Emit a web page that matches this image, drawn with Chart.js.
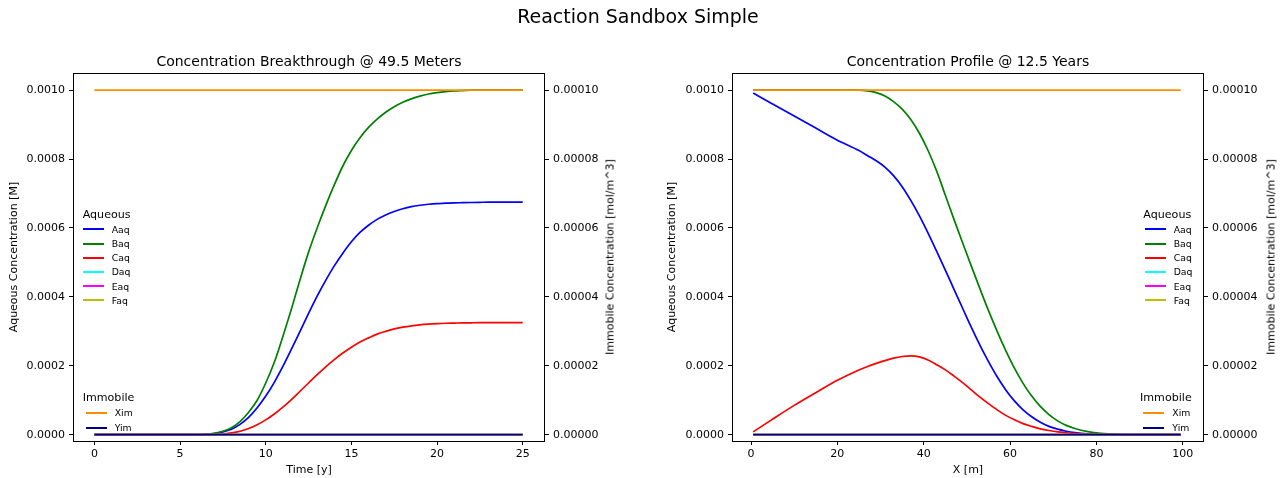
<!DOCTYPE html>
<html>
<head>
<meta charset="utf-8">
<script src="https://cdn.jsdelivr.net/npm/chart.js@4.4.0/dist/chart.umd.min.js"></script>
<style>
    body { margin: 0; background: #fff; font-family: 'DejaVu Sans', sans-serif; }
    #fig { position: relative; width: 1285px; height: 478px; overflow: hidden; background: #fff; }
    canvas { position: absolute; top: 0; }
    .txt { position: absolute; white-space: nowrap; color: #000; }
    .sw { position: absolute; }
</style>
</head>
<body>
<div id="fig">
    <canvas id="canvas-0" width="642" height="478" style="left:0px"></canvas>
    <canvas id="canvas-1" width="643" height="478" style="left:642px"></canvas>
</div>
<script>
// Aqueous values are stored in units of 1e-4 M
const UNIT = 1e-4;

// Breakthrough @ 49.5 m, time in years
const breakTimes = [0, 0.5, 1, 1.5, 2, 2.5, 3, 3.5, 4, 4.5, 5, 5.5, 6, 6.5, 7, 7.5, 8, 8.5, 9, 9.5,
    10, 10.5, 11, 11.5, 12, 12.5, 13, 13.5, 14, 14.5, 15, 15.5, 16, 16.5, 17, 17.5, 18, 18.5, 19, 19.5,
    20, 20.5, 21, 21.5, 22, 22.5, 23, 23.5, 24, 24.5, 25];
const breakEnds = [0, 25];
const aaqBreak = [0, 0, 0, 0, 0, 0, 0, 0, 0, 0, 0, 0, 0, 0.01, 0.03, 0.08, 0.16, 0.3, 0.5, 0.78,
    1.12, 1.52, 1.98, 2.48, 3.0, 3.52, 4.02, 4.48, 4.9, 5.27, 5.6, 5.87, 6.08, 6.25, 6.38, 6.48, 6.56, 6.62, 6.66, 6.69,
    6.71, 6.72, 6.73, 6.735, 6.74, 6.745, 6.75, 6.75, 6.75, 6.75, 6.75];
const baqBreak = [0, 0, 0, 0, 0, 0, 0, 0, 0, 0, 0, 0, 0, 0.01, 0.04, 0.1, 0.2, 0.38, 0.65, 1.0,
    1.5, 2.1, 2.85, 3.65, 4.5, 5.3, 6.0, 6.65, 7.25, 7.8, 8.25, 8.62, 8.92, 9.16, 9.36, 9.52, 9.65, 9.75, 9.83, 9.89,
    9.93, 9.96, 9.98, 9.99, 10, 10, 10, 10, 10, 10, 10];
const caqBreak = [0, 0, 0, 0, 0, 0, 0, 0, 0, 0, 0, 0, 0, 0, 0, 0.02, 0.05, 0.1, 0.18, 0.29,
    0.43, 0.6, 0.8, 1.02, 1.26, 1.5, 1.74, 1.97, 2.18, 2.37, 2.54, 2.69, 2.81, 2.92, 3.0, 3.07, 3.12, 3.16, 3.19, 3.21,
    3.225, 3.235, 3.24, 3.245, 3.248, 3.25, 3.25, 3.25, 3.25, 3.25, 3.25];
const daqBreak = [0, 0];
const eaqBreak = [0, 0];
const faqBreak = [0, 0];
const ximBreak = [0.0001, 0.0001];
const yimBreak = [0, 0];

// Profile @ 12.5 years, distance in metres
const profileX = [0.5, 5, 10, 15, 20, 25, 27, 29, 31, 33, 35, 37, 39, 41, 43, 45, 47, 49, 51, 53,
    55, 57, 59, 61, 63, 65, 67, 69, 71, 73, 75, 78, 81, 85, 90, 95, 99.5];
const profileEnds = [0.5, 99.5];
const aaqProfile = [9.92, 9.6, 9.25, 8.9, 8.55, 8.25, 8.1, 7.95, 7.77, 7.52, 7.2, 6.8, 6.35, 5.85, 5.32, 4.78, 4.22, 3.67, 3.12, 2.6,
    2.12, 1.68, 1.3, 0.98, 0.72, 0.52, 0.36, 0.24, 0.16, 0.1, 0.06, 0.025, 0.01, 0.003, 0, 0, 0];
const baqProfile = [10, 10, 10, 10, 10, 10, 9.98, 9.93, 9.83, 9.67, 9.45, 9.15, 8.75, 8.25, 7.65, 6.95, 6.25, 5.57, 4.9, 4.24,
    3.6, 3.0, 2.44, 1.93, 1.49, 1.12, 0.82, 0.58, 0.4, 0.27, 0.18, 0.09, 0.04, 0.012, 0.002, 0, 0];
const caqProfile = [0.08, 0.45, 0.85, 1.22, 1.58, 1.88, 1.98, 2.07, 2.15, 2.22, 2.27, 2.29, 2.26, 2.17, 2.03, 1.88, 1.7, 1.51, 1.3, 1.09,
    0.9, 0.72, 0.56, 0.43, 0.32, 0.24, 0.17, 0.12, 0.08, 0.055, 0.035, 0.015, 0.006, 0.002, 0, 0, 0];
const daqProfile = [0, 0];
const eaqProfile = [0, 0];
const faqProfile = [0, 0];
const ximProfile = [0.0001, 0.0001];
const yimProfile = [0, 0];

const aqNames = ['Aaq', 'Baq', 'Caq', 'Daq', 'Eaq', 'Faq'];
const aqColors = ['#0000ff', '#008000', '#ff0000', '#00ffff', '#ff00ff', '#bfbf00'];
const imNames = ['Xim', 'Yim'];
const imColors = ['#ff8c00', '#000080'];

// Tick labels
const timeTicks = [0, 5, 10, 15, 20, 25];
const distTicks = [0, 20, 40, 60, 80, 100];
const aqTicks = [0, 0.0002, 0.0004, 0.0006, 0.0008, 0.001];
const imTicks = [0, 0.00002, 0.00004, 0.00006, 0.00008, 0.0001];

const FONT = 'DejaVu Sans';
const LW = 1.7;

function points(xs, ys, scale) {
    return xs.map((x, i) => ({x: x, y: ys[i] * scale}));
}

function addText(text, x, cy, size, align) {
    let div = document.createElement('div');
    div.className = 'txt';
    div.textContent = text;
    let lh = Math.round(size * 1.2);
    div.style.fontSize = size + 'px';
    div.style.lineHeight = lh + 'px';
    div.style.left = x + 'px';
    if (align === 'rotate') {
        div.style.top = cy + 'px';
        div.style.transform = 'translate(-50%, -50%) rotate(-90deg)';
    } else {
        div.style.top = (cy - lh / 2) + 'px';
        if (align === 'center') div.style.transform = 'translateX(-50%)';
    }
    document.getElementById('fig').appendChild(div);
}

function addLegend(title, names, colors, titleX, titleY, rowX, rowY, step) {
    addText(title, titleX, titleY, 11.1);
    for (let i = 0; i < names.length; i++) {
        let cy = rowY + i * step;
        let sw = document.createElement('div');
        sw.className = 'sw';
        sw.style.left = Math.round(rowX) + 'px';
        sw.style.width = '21px';
        sw.style.top = Math.round(cy - 1) + 'px';
        sw.style.height = '2px';
        sw.style.background = colors[i];
        document.getElementById('fig').appendChild(sw);
        addText(names[i], rowX + 29, cy, 9.3);
    }
}

const framePlugin = {
    id: 'frame',
    afterDraw(chart) {
        const a = chart.chartArea;
        const ctx = chart.ctx;
        ctx.save();
        ctx.strokeStyle = '#000';
        ctx.lineWidth = 1;
        ctx.strokeRect(a.left + 0.5, a.top + 0.5, a.right - a.left - 1, a.bottom - a.top);
        ctx.restore();
    }
};

function makeDatasets(aqX, aqY, imX, imY) {
    let sets = [];
    for (let i = 0; i < aqNames.length; i++) {
        sets.push({label: aqNames[i], data: points(aqX[i], aqY[i], UNIT), borderColor: aqColors[i], yAxisID: 'y'});
    }
    for (let i = 0; i < imNames.length; i++) {
        sets.push({label: imNames[i], data: points(imX[i], imY[i], 1), borderColor: imColors[i], yAxisID: 'y1'});
    }
    // later series are drawn on top, as in the original
    sets.forEach((s, i) => {
        s.order = sets.length - i;
        s.borderWidth = LW;
        s.pointRadius = 0;
        s.fill = false;
        s.cubicInterpolationMode = 'monotone';
    });
    return sets;
}

function makeChart(id, opt) {
    const tickFont = {family: FONT, size: 11};
    const titleFont = {family: FONT, size: 11};
    const grid = {drawOnChartArea: false, tickLength: 4, color: '#000', lineWidth: 1};
    let ctx = document.getElementById(id).getContext('2d');
    return new Chart(ctx, {
        type: 'line',
        data: {datasets: opt.datasets},
        plugins: [framePlugin],
        options: {
            responsive: false,
            animation: false,
            devicePixelRatio: 1,
            layout: {padding: {top: 73, left: 0, right: 0, bottom: 0}},
            plugins: {legend: {display: false}, tooltip: {enabled: false}},
            scales: {
                x: {
                    type: 'linear', position: 'bottom', min: opt.xMin, max: opt.xMax,
                    afterBuildTicks: s => { s.ticks = opt.xTicks.map(v => ({value: v})); },
                    afterFit: s => { s.height = 37; },
                    ticks: {font: tickFont, color: '#000', padding: 3, maxRotation: 0, callback: v => String(v)},
                    grid: grid, border: {display: false},
                    title: {display: true, text: opt.xTitle, font: titleFont, color: '#000', padding: {top: 0, bottom: 1}}
                },
                y: {
                    type: 'linear', position: 'left', min: -0.0000184, max: 0.00105,
                    afterBuildTicks: s => { s.ticks = aqTicks.map(v => ({value: v})); },
                    afterFit: s => { s.width = opt.leftWidth; },
                    ticks: {font: tickFont, color: '#000', padding: 4, callback: v => v.toFixed(4)},
                    grid: grid, border: {display: false},
                    title: {display: true, text: 'Aqueous Concentration [M]', font: titleFont, color: '#000', padding: {top: opt.leftPad, bottom: 0}}
                },
                y1: {
                    type: 'linear', position: 'right', min: -0.00000184, max: 0.000105,
                    afterBuildTicks: s => { s.ticks = imTicks.map(v => ({value: v})); },
                    afterFit: s => { s.width = opt.rightWidth; },
                    ticks: {font: tickFont, color: '#000', padding: 4, callback: v => v.toFixed(5)},
                    grid: grid, border: {display: false},
                    title: {display: false}
                }
            }
        }
    });
}

makeChart('canvas-0', {
    datasets: makeDatasets(
        [breakTimes, breakTimes, breakTimes, breakEnds, breakEnds, breakEnds],
        [aaqBreak, baqBreak, caqBreak, daqBreak, eaqBreak, faqBreak],
        [breakEnds, breakEnds], [ximBreak, yimBreak]),
    xMin: -1.25, xMax: 26.3, xTicks: timeTicks, xTitle: 'Time [y]',
    leftWidth: 73, rightWidth: 97, leftPad: 8
});

makeChart('canvas-1', {
    datasets: makeDatasets(
        [profileX, profileX, profileX, profileEnds, profileEnds, profileEnds],
        [aaqProfile, baqProfile, caqProfile, daqProfile, eaqProfile, faqProfile],
        [profileEnds, profileEnds], [ximProfile, yimProfile]),
    xMin: -4.4, xMax: 104.9, xTicks: distTicks, xTitle: 'X [m]',
    leftWidth: 90, rightWidth: 81, leftPad: 24
});

// Titles
addText('Reaction Sandbox Simple', 638, 16, 19, 'center');
addText('Concentration Breakthrough @ 49.5 Meters', 309, 61.5, 14, 'center');
addText('Concentration Profile @ 12.5 Years', 968, 61.5, 14, 'center');
addText('Immobile Concentration [mol/m^3]', 610, 257, 11, 'rotate');
addText('Immobile Concentration [mol/m^3]', 1271, 257, 11, 'rotate');

// Legends
addLegend('Aqueous', aqNames, aqColors, 82.7, 214, 82.7, 229.3, 14.2);
addLegend('Immobile', imNames, imColors, 82.7, 397.7, 85.7, 412.5, 15);
addLegend('Aqueous', aqNames, aqColors, 1143.3, 214, 1144.7, 229.3, 14.2);
addLegend('Immobile', imNames, imColors, 1140, 397.7, 1143.3, 412.5, 15);
</script>
</body>
</html>
